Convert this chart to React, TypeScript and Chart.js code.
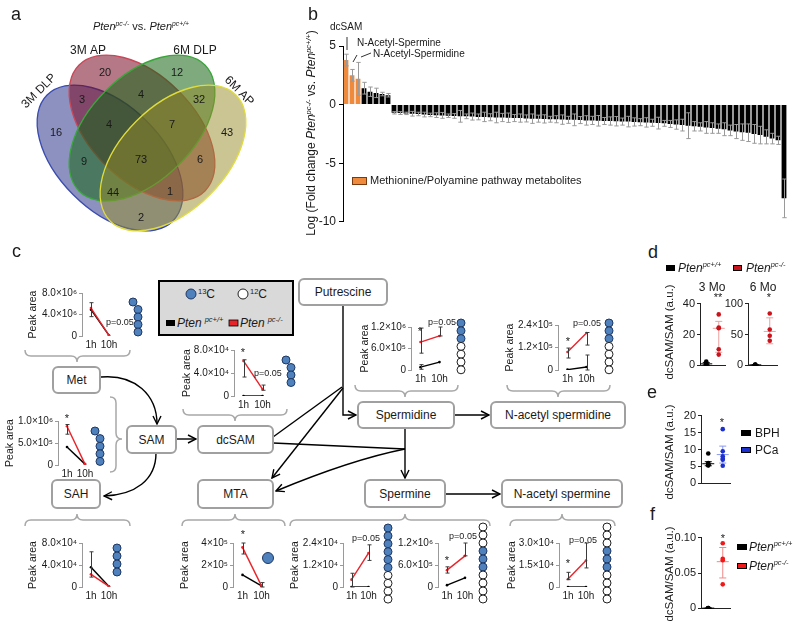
import React, { useEffect, useRef } from 'react';
import { Chart, registerables } from 'chart.js';

Chart.register(...registerables);

const FONT = 'Arial, "Liberation Sans", Helvetica, sans-serif';
Chart.defaults.font.family = FONT;
Chart.defaults.color = '#1a1a1a';

// ---------------- Panel a : Venn ----------------
const vennSetNames = ['3M DLP', '3M AP', '6M DLP', '6M AP'];
const vennRegionCounts = [20, 12, 3, 4, 32, 16, 4, 7, 43, 9, 73, 6, 44, 1, 2];

// ---------------- Panel b : fold changes ----------------
const pathwayValues = [3.8, 2.5, 2.2];
const pathwayErrors = [0.5, 0.5, 1.4];
const otherValues = [
  1.4, 1.1, 1.0, 0.9, 0.8,
  -0.70, -0.72, -0.75, -0.78, -0.80, -0.85, -0.88, -0.90, -0.92, -0.95,
  -0.97, -1.00, -1.00, -1.02, -1.05, -1.05, -1.08, -1.10, -1.10, -1.12,
  -1.15, -1.15, -1.18, -1.20, -1.20, -1.22, -1.25, -1.25, -1.28, -1.30,
  -1.30, -1.32, -1.35, -1.35, -1.38, -1.40, -1.40, -1.42, -1.45, -1.45,
  -1.48, -1.50, -1.52, -1.55, -1.58, -1.60, -1.65, -1.70, -1.75, -1.80,
  -1.85, -1.90, -1.95, -2.00, -2.05, -2.10, -2.20, -2.30, -2.35, -2.40,
  -2.50, -2.60, -2.75, -2.90, -3.05,
  -8.0,
];
const otherErrors = [
  0.5, 0.4, 0.4, 0.15, 0.15,
  0.10, 0.12, 0.10, 0.20, 0.15, 0.20, 0.15, 0.20, 0.25, 0.15,
  0.20, 0.50, 0.20, 0.30, 0.25, 0.40, 0.30, 0.45, 0.35, 0.40,
  0.30, 0.35, 0.30, 0.40, 0.30, 0.35, 0.25, 0.30, 0.40, 0.30,
  0.50, 0.30, 0.40, 0.35, 0.45, 0.30, 0.35, 0.40, 0.30, 0.45,
  0.35, 0.30, 0.40, 0.30, 0.50, 0.25, 0.30, 0.40, 0.50, 1.10,
  0.40, 0.35, 0.50, 0.45, 0.40, 0.55, 0.45, 0.60, 0.70, 0.75,
  0.80, 0.75, 0.60, 0.45, 0.35,
  1.65,
];
const foldTicks = [-10, -5, 0, 5];

// ---------------- Panel c : 13C tracing ----------------
const TIME = ['1h', '10h'];

const metWT = [4.9e6, 0.1e6];
const metKO = [5.2e6, 0.1e6];
const metWTRange = [[3.6e6, 6.2e6], null];
const metKORange = [null, null];
const metTicks = [0, 4e6, 8e6];
const metTickLabels = ['0', '4.0×10⁶', '8.0×10⁶'];

const samWT = [0.41e6, 0.02e6];
const samKO = [0.88e6, 0.02e6];
const samWTRange = [null, null];
const samKORange = [[0.70e6, 0.92e6], null];
const samTicks = [0, 0.5e6, 1.0e6];
const samTickLabels = ['0', '5.0×10⁵', '1.0×10⁶'];

const sahWT = [3.6e4, 0.1e4];
const sahKO = [2.3e4, 0.1e4];
const sahWTRange = [[1.8e4, 6.4e4], null];
const sahKORange = [null, null];
const sahTicks = [0, 4e4, 8e4];
const sahTickLabels = ['0', '4.0×10⁴', '8.0×10⁴'];

const dcsamWT = [0, 0];
const dcsamKO = [6.1e4, 1.2e4];
const dcsamWTRange = [null, null];
const dcsamKORange = [[3.3e4, 6.3e4], [1.0e4, 1.9e4]];
const dcsamTicks = [0, 4e4, 8e4];
const dcsamTickLabels = ['0', '4.0×10⁴', '8.0×10⁴'];

const mtaWT = [1.1e5, 0.1e5];
const mtaKO = [3.6e5, 0.1e5];
const mtaWTRange = [null, [0, 0.4e5]];
const mtaKORange = [[3.0e5, 4.0e5], null];
const mtaTicks = [0, 2e5, 4e5];
const mtaTickLabels = ['0', '2×10⁵', '4×10⁵'];

const spm6WT = [0, 0];
const spm6KO = [0.4e4, 1.85e4];
const spm6WTRange = [null, null];
const spm6KORange = [[0, 0.75e4], [1.45e4, 2.3e4]];
const spm6Ticks = [0, 1.2e4, 2.4e4];
const spm6TickLabels = ['0', '1.2×10⁴', '2.4×10⁴'];

const spm3WT = [0.05e6, 0.25e6];
const spm3KO = [0.46e6, 0.85e6];
const spm3WTRange = [null, null];
const spm3KORange = [[0.38e6, 0.55e6], [0.85e6, 1.2e6]];
const spm3Ticks = [0, 0.6e6, 1.2e6];
const spm3TickLabels = ['0', '6.0×10⁵', '1.2×10⁶'];

const nacspmWT = [0, 0];
const nacspmKO = [0.55e4, 1.8e4];
const nacspmWTRange = [null, null];
const nacspmKORange = [[0.5e4, 1.0e4], [1.3e4, 3.0e4]];
const nacspmTicks = [0, 1.5e4, 3.0e4];
const nacspmTickLabels = ['0', '1.5×10⁴', '3.0×10⁴'];

const spdWT = [0.08e6, 0.22e6];
const spdKO = [0.78e6, 0.95e6];
const spdWTRange = [[0.02e6, 0.15e6], null];
const spdKORange = [[0.47e6, 1.17e6], [0.95e6, 1.2e6]];
const spdTicks = [0, 0.6e6, 1.2e6];
const spdTickLabels = ['0', '6.0×10⁵', '1.2×10⁶'];

const nacspdWT = [0.02e5, 0.16e5];
const nacspdKO = [0.96e5, 1.97e5];
const nacspdWTRange = [null, [0, 0.8e5]];
const nacspdKORange = [[0.64e5, 1.17e5], [1.33e5, 2.0e5]];
const nacspdTicks = [0, 1.2e5, 2.4e5];
const nacspdTickLabels = ['0', '1.2×10⁵', '2.4×10⁵'];

// ---------------- Panels d, e, f ----------------
const dGroups = ['WT', 'KO'];
const dMo3WT = [2.5, 1.0, 0.6, 0.8, 0.4];
const dMo3KO = [33, 24.5, 24, 10.5, 7];
const dMo3WTStats = [1.0, 0.3, 1.8];
const dMo3KOStats = [24, 8.5, 28.5];
const dMo3Ticks = [0, 20, 40];
const dMo6WT = [1.2, 0.8, 0.6, 1.0];
const dMo6KO = [84, 58, 48, 40];
const dMo6WTStats = [0.9, 0.6, 1.2];
const dMo6KOStats = [55, 35, 77];
const dMo6Ticks = [0, 50, 100];

const eGroups = ['BPH', 'PCa'];
const eBPH = [8.8, 6.0, 5.6, 5.4, 5.3, 5.5];
const ePCa = [16, 9.5, 7.0, 7.3, 8.0, 5.2];
const eBPHStats = [5.8, 5.2, 6.4];
const ePCaStats = [8.5, 6.0, 11.0];
const eTicks = [0, 5, 10, 15, 20];

const fGroups = ['WT', 'KO'];
const fWT = [0.0005, 0.0003, 0.0004, 0.0002];
const fKO = [0.092, 0.070, 0.068, 0.034];
const fWTStats = [0.0004, 0.0002, 0.0006];
const fKOStats = [0.066, 0.043, 0.086];
const fTicks = [0, 0.05, 0.10];
const fTickLabels = ['0', '0.05', '0.10'];

// ---------------- styles / layout ----------------
const ORANGE = '#ef8a3c';
const KO_RED = '#e8232a';
const BLUE_C = '#4f81bd';

const rangePlugin = {
  id: 'rangeBars',
  afterDatasetsDraw(chart: any) {
    const { ctx } = chart;
    const ys = chart.scales.y;
    chart.data.datasets.forEach((ds: any, di: number) => {
      const ranges = ds.ranges;
      if (!ranges) return;
      const meta = chart.getDatasetMeta(di);
      ctx.save();
      ctx.strokeStyle = ds.rangeColor || '#3a3a3a';
      ctx.lineWidth = ds.rangeWidth || 1;
      const cap = ds.rangeCap || 2;
      ranges.forEach((r: any, i: number) => {
        if (!r) return;
        const el = meta.data[i];
        if (!el) return;
        const x = Math.round(el.x) + 0.5;
        const y1 = ys.getPixelForValue(r[0]);
        const y2 = ys.getPixelForValue(r[1]);
        ctx.beginPath();
        ctx.moveTo(x, y1); ctx.lineTo(x, y2);
        ctx.moveTo(x - cap, y1); ctx.lineTo(x + cap, y1);
        ctx.moveTo(x - cap, y2); ctx.lineTo(x + cap, y2);
        ctx.stroke();
      });
      ctx.restore();
    });
  },
};

const statsPlugin = {
  id: 'groupStats',
  beforeDatasetsDraw(chart: any) {
    const { ctx } = chart;
    const xs = chart.scales.x;
    const ys = chart.scales.y;
    chart.data.datasets.forEach((ds: any) => {
      if (!ds.stats) return;
      const x = xs.getPixelForValue(ds.cat);
      const [m, lo, hi] = ds.stats;
      ctx.save();
      ctx.strokeStyle = ds.statColor;
      ctx.lineWidth = 1;
      const ym = ys.getPixelForValue(m);
      const yl = ys.getPixelForValue(lo);
      const yh = ys.getPixelForValue(hi);
      ctx.beginPath();
      ctx.moveTo(x - 6, ym); ctx.lineTo(x + 6, ym);
      ctx.moveTo(x, yl); ctx.lineTo(x, yh);
      ctx.moveTo(x - 3.5, yl); ctx.lineTo(x + 3.5, yl);
      ctx.moveTo(x - 3.5, yh); ctx.lineTo(x + 3.5, yh);
      ctx.stroke();
      ctx.restore();
    });
  },
};

const vennPlugin = {
  id: 'vennShapes',
  beforeDatasetsDraw(chart: any, _a: any, opts: any) {
    const { ctx } = chart;
    const sx = chart.scales.x, sy = chart.scales.y;
    const k = sx.getPixelForValue(1) - sx.getPixelForValue(0);
    opts.ellipses.forEach((e: any) => {
      ctx.save();
      ctx.beginPath();
      ctx.ellipse(sx.getPixelForValue(e.cx), sy.getPixelForValue(e.cy), e.rx * k, e.ry * k, (e.angle * Math.PI) / 180, 0, Math.PI * 2);
      ctx.fillStyle = e.fill;
      ctx.fill();
      ctx.lineWidth = 1.3;
      ctx.strokeStyle = e.stroke;
      ctx.stroke();
      ctx.restore();
    });
  },
  afterDatasetsDraw(chart: any, _a: any, opts: any) {
    const { ctx } = chart;
    const sx = chart.scales.x, sy = chart.scales.y;
    const ds = chart.data.datasets[0];
    const meta = chart.getDatasetMeta(0);
    ctx.save();
    ctx.fillStyle = '#1a1a1a';
    ctx.textAlign = 'center';
    ctx.textBaseline = 'middle';
    ctx.font = `11px ${FONT}`;
    meta.data.forEach((pt: any, i: number) => {
      ctx.fillText(String(ds.counts[i]), pt.x, pt.y);
    });
    ctx.font = `12px ${FONT}`;
    opts.setLabels.forEach((s: any, i: number) => {
      ctx.save();
      ctx.translate(sx.getPixelForValue(s.x), sy.getPixelForValue(s.y));
      ctx.rotate((s.angle * Math.PI) / 180);
      ctx.fillText(ds.setNames[i], 0, 0);
      ctx.restore();
    });
    ctx.restore();
  },
};

const vennEllipses = [
  { cx: 110, cy: 158, rx: 89, ry: 52, angle: 45, fill: 'rgba(45,55,140,0.55)', stroke: '#3a4bb0' },
  { cx: 142, cy: 128, rx: 89, ry: 52, angle: 45, fill: 'rgba(120,10,35,0.55)', stroke: '#c8485a' },
  { cx: 142, cy: 128, rx: 89, ry: 52, angle: -45, fill: 'rgba(20,100,20,0.55)', stroke: '#3aa63a' },
  { cx: 173, cy: 158, rx: 89, ry: 52, angle: -45, fill: 'rgba(150,140,40,0.5)', stroke: '#e0dc3c' },
];
const vennCountPos = [
  [105, 73], [177, 73], [82, 100], [141, 95], [199, 100], [56, 133], [109, 125], [172, 125],
  [227, 133], [84, 162], [141, 160], [200, 160], [113, 193], [170, 192], [141, 218],
];
const vennSetLabelPos = [
  { x: 39, y: 91, angle: -45 }, { x: 88, y: 51, angle: 0 }, { x: 195, y: 51, angle: 0 }, { x: 239, y: 91, angle: 45 },
];

const baseOpts = {
  animation: false,
  responsive: false,
  maintainAspectRatio: false,
  events: [],
};

function ChartBox({ left, top, width, height, make }: any) {
  const ref = useRef<HTMLCanvasElement>(null);
  useEffect(() => {
    const c = new Chart(ref.current as HTMLCanvasElement, make());
    return () => c.destroy();
  }, []);
  return <canvas ref={ref} width={width} height={height} style={{ position: 'absolute', left, top, width, height }} />;
}

function makeVenn() {
  return {
    type: 'scatter',
    data: {
      datasets: [{
        data: vennCountPos.map(([x, y]) => ({ x, y })),
        counts: vennRegionCounts,
        setNames: vennSetNames,
        pointRadius: 0,
      }],
    },
    options: {
      ...baseOpts,
      layout: { padding: 0 },
      plugins: { legend: { display: false }, tooltip: { enabled: false }, vennShapes: { ellipses: vennEllipses, setLabels: vennSetLabelPos } },
      scales: {
        x: { type: 'linear', display: false, min: 0, max: 300 },
        y: { type: 'linear', display: false, min: 0, max: 245, reverse: true },
      },
    },
    plugins: [vennPlugin],
  };
}

function makeBars() {
  const values = [...pathwayValues, ...otherValues];
  const errs = [...pathwayErrors, ...otherErrors];
  return {
    type: 'bar',
    data: {
      labels: values.map((_, i) => `m${i + 1}`),
      datasets: [{
        data: values,
        backgroundColor: values.map((_, i) => (i < pathwayValues.length ? ORANGE : '#000')),
        borderWidth: 0,
        barPercentage: 0.8,
        categoryPercentage: 1,
        ranges: values.map((v, i) => [v - errs[i], v + errs[i]]),
        rangeColor: '#9a9a9a',
        rangeCap: 2.2,
      }],
    },
    options: {
      ...baseOpts,
      layout: { padding: { top: 16, right: 4, bottom: 4, left: 0 } },
      plugins: { legend: { display: false }, tooltip: { enabled: false } },
      scales: {
        x: { display: false },
        y: {
          min: -10, max: 5,
          afterBuildTicks: (s: any) => { s.ticks = foldTicks.map((v) => ({ value: v })); },
          ticks: { font: { size: 12 }, padding: 3, color: '#1a1a1a' },
          grid: { display: true, drawOnChartArea: false, tickLength: 4, color: '#000' },
          border: { display: true, color: '#000' },
          afterFit: (s: any) => { s.width = 43; },
        },
      },
    },
    plugins: [rangePlugin],
  };
}

const peakCharts = [
  { id: 'met', box: { left: 82, top: 293, w: 36, h: 43, titleX: 33 }, ticks: metTicks, labels: metTickLabels, wt: metWT, ko: metKO, wtR: metWTRange, koR: metKORange },
  { id: 'sam', box: { left: 58, top: 421, w: 36, h: 44, titleX: 10 }, ticks: samTicks, labels: samTickLabels, wt: samWT, ko: samKO, wtR: samWTRange, koR: samKORange },
  { id: 'sah', box: { left: 82, top: 543, w: 36, h: 44, titleX: 33 }, ticks: sahTicks, labels: sahTickLabels, wt: sahWT, ko: sahKO, wtR: sahWTRange, koR: sahKORange },
  { id: 'dcsam', box: { left: 234, top: 350, w: 38, h: 46, titleX: 187 }, ticks: dcsamTicks, labels: dcsamTickLabels, wt: dcsamWT, ko: dcsamKO, wtR: dcsamWTRange, koR: dcsamKORange },
  { id: 'mta', box: { left: 233, top: 543, w: 38, h: 44, titleX: 185 }, ticks: mtaTicks, labels: mtaTickLabels, wt: mtaWT, ko: mtaKO, wtR: mtaWTRange, koR: mtaKORange },
  { id: 'spm6', box: { left: 343, top: 543, w: 34, h: 44, titleX: 295 }, ticks: spm6Ticks, labels: spm6TickLabels, wt: spm6WT, ko: spm6KO, wtR: spm6WTRange, koR: spm6KORange },
  { id: 'spm3', box: { left: 438, top: 543, w: 36, h: 44 }, ticks: spm3Ticks, labels: spm3TickLabels, wt: spm3WT, ko: spm3KO, wtR: spm3WTRange, koR: spm3KORange },
  { id: 'nacspm', box: { left: 559, top: 543, w: 36, h: 44, titleX: 512 }, ticks: nacspmTicks, labels: nacspmTickLabels, wt: nacspmWT, ko: nacspmKO, wtR: nacspmWTRange, koR: nacspmKORange },
  { id: 'spd', box: { left: 411, top: 327, w: 38, h: 43, titleX: 365 }, ticks: spdTicks, labels: spdTickLabels, wt: spdWT, ko: spdKO, wtR: spdWTRange, koR: spdKORange },
  { id: 'nacspd', box: { left: 558, top: 325, w: 38, h: 45, titleX: 510 }, ticks: nacspdTicks, labels: nacspdTickLabels, wt: nacspdWT, ko: nacspdKO, wtR: nacspdWTRange, koR: nacspdKORange },
];

function peakGeom(pc: any) {
  const b = pc.box;
  const ML = b.titleX !== undefined ? Math.round(b.left - b.titleX + 6.3) : 45;
  const MT = 8, MR = 6, MB = 16;
  return { ML, MT, MR, MB, left: b.left - ML, top: b.top - MT, width: ML + b.w + MR, height: MT + b.h + MB };
}

function makePeak(pc: any) {
  const g = peakGeom(pc);
  return {
    type: 'line',
    data: {
      labels: TIME,
      datasets: [
        { data: pc.ko, borderColor: KO_RED, backgroundColor: KO_RED, borderWidth: 1.4, pointRadius: 1.3, pointBorderWidth: 0, tension: 0, ranges: pc.koR },
        { data: pc.wt, borderColor: '#000', backgroundColor: '#000', borderWidth: 1.4, pointRadius: 1.3, pointBorderWidth: 0, tension: 0, ranges: pc.wtR },
      ],
    },
    options: {
      ...baseOpts,
      layout: { padding: { top: g.MT, right: g.MR, bottom: 0, left: 0 } },
      plugins: { legend: { display: false }, tooltip: { enabled: false } },
      scales: {
        x: {
          type: 'category', offset: true,
          grid: { display: false, drawTicks: false }, border: { display: false },
          ticks: { font: { size: 10 }, padding: 3, maxRotation: 0, autoSkip: false, color: '#1a1a1a' },
          afterFit: (s: any) => { s.height = g.MB; },
        },
        y: {
          type: 'linear', min: 0, max: pc.ticks[pc.ticks.length - 1],
          afterBuildTicks: (s: any) => { s.ticks = pc.ticks.map((v: number) => ({ value: v })); },
          ticks: { font: { size: 10 }, padding: 2, color: '#1a1a1a', autoSkip: false, callback: (_v: any, i: number) => pc.labels[i] },
          grid: { display: true, drawOnChartArea: false, drawTicks: true, tickLength: 3, color: '#9a9a9a' },
          border: { display: true, color: '#9a9a9a', width: 1 },
          title: { display: pc.box.titleX !== undefined, text: 'Peak area', font: { size: 10.5 }, padding: 0, color: '#1a1a1a' },
          afterFit: (s: any) => { s.width = g.ML; },
        },
      },
    },
    plugins: [rangePlugin],
  };
}

const dotCharts = [
  { id: 'd3', box: { left: 700, top: 303, w: 25, h: 67, ml: 28 }, cats: dGroups, ticks: dMo3Ticks, labels: dMo3Ticks.map(String),
    groups: [{ values: dMo3WT, stats: dMo3WTStats, color: '#000', statColor: '#000' }, { values: dMo3KO, stats: dMo3KOStats, color: '#c8141c', statColor: '#eea0a0' }] },
  { id: 'd6', box: { left: 748, top: 303, w: 29, h: 67, ml: 30 }, cats: dGroups, ticks: dMo6Ticks, labels: dMo6Ticks.map(String),
    groups: [{ values: dMo6WT, stats: dMo6WTStats, color: '#000', statColor: '#000' }, { values: dMo6KO, stats: dMo6KOStats, color: '#c8141c', statColor: '#eea0a0' }] },
  { id: 'e', box: { left: 701, top: 415, w: 29, h: 73, ml: 28 }, cats: eGroups, ticks: eTicks, labels: eTicks.map(String),
    groups: [{ values: eBPH, stats: eBPHStats, color: '#000', statColor: '#000' }, { values: ePCa, stats: ePCaStats, color: '#1c30d0', statColor: '#8898f0' }] },
  { id: 'f', box: { left: 701, top: 537, w: 29, h: 76, ml: 36 }, cats: fGroups, ticks: fTicks, labels: fTickLabels,
    groups: [{ values: fWT, stats: fWTStats, color: '#000', statColor: '#000' }, { values: fKO, stats: fKOStats, color: '#f01818', statColor: '#f08888' }] },
];

function dotGeom(dc: any) {
  const b = dc.box;
  const MT = 8, MR = 4, MB = 4;
  return { ML: b.ml, MT, MR, MB, left: b.left - b.ml, top: b.top - MT, width: b.ml + b.w + MR, height: MT + b.h + MB };
}

function makeDots(dc: any) {
  const g = dotGeom(dc);
  return {
    type: 'scatter',
    data: {
      datasets: dc.groups.map((gr: any, gi: number) => ({
        data: gr.values.map((v: number) => ({ x: dc.cats[gi], y: v })),
        cat: gi, stats: gr.stats, statColor: gr.statColor,
        pointRadius: 2.3, pointBackgroundColor: gr.color, pointBorderColor: gr.color, pointBorderWidth: 0, showLine: false,
      })),
    },
    options: {
      ...baseOpts,
      layout: { padding: { top: g.MT, right: g.MR, bottom: 0, left: 0 } },
      plugins: { legend: { display: false }, tooltip: { enabled: false } },
      scales: {
        x: {
          type: 'category', labels: dc.cats, offset: true,
          grid: { display: false, drawTicks: false }, ticks: { display: false },
          border: { display: true, color: '#222' },
          afterFit: (s: any) => { s.height = g.MB; },
        },
        y: {
          type: 'linear', min: 0, max: dc.ticks[dc.ticks.length - 1],
          afterBuildTicks: (s: any) => { s.ticks = dc.ticks.map((v: number) => ({ value: v })); },
          ticks: { font: { size: 11 }, padding: 2, color: '#1a1a1a', autoSkip: false, callback: (_v: any, i: number) => dc.labels[i] },
          grid: { display: true, drawOnChartArea: false, drawTicks: true, tickLength: 3, color: '#222' },
          border: { display: true, color: '#222', width: 1 },
          afterFit: (s: any) => { s.width = g.ML; },
        },
      },
    },
    plugins: [statsPlugin],
  };
}

// ---------------- diagram helpers ----------------
const carbonChains = [
  { x: 138, y: 302, step: 7.5, pattern: 'BBBBB', kink: true },
  { x: 100, y: 431, step: 7.6, pattern: 'BBBBB', kink: true },
  { x: 117, y: 548, step: 8, pattern: 'BBBB', kink: false },
  { x: 291, y: 360, step: 7.5, pattern: 'BBBB', kink: true },
  { x: 388, y: 528, step: 7.9, pattern: 'BBBBBBWWWW', kink: false },
  { x: 483, y: 527, step: 8, pattern: 'WWWBBBWWWW', kink: false },
  { x: 607, y: 527, step: 8, pattern: 'WWWBBBWWWW', kink: false },
  { x: 461, y: 323, step: 7.8, pattern: 'BBBWWWW', kink: false },
  { x: 609, y: 323, step: 7.8, pattern: 'BBBWWWW', kink: false },
];

const boxes = [
  { label: 'Putrescine', x: 299, y: 279, w: 88, h: 26 },
  { label: 'Met', x: 53, y: 367, w: 47, h: 26 },
  { label: 'SAM', x: 127, y: 426, w: 49, h: 27 },
  { label: 'dcSAM', x: 198, y: 426, w: 75, h: 27 },
  { label: 'SAH', x: 52, y: 480, w: 48, h: 28 },
  { label: 'MTA', x: 198, y: 480, w: 75, h: 28 },
  { label: 'Spermidine', x: 358, y: 402, w: 96, h: 26 },
  { label: 'N-acetyl spermidine', x: 491, y: 402, w: 134, h: 26 },
  { label: 'Spermine', x: 365, y: 480, w: 80, h: 27 },
  { label: 'N-acetyl spermine', x: 502, y: 480, w: 120, h: 27 },
];

function hBrace(x1: number, x2: number, tip: number, yE: number, dir: number) {
  const r = 6;
  const yM = yE + dir * 6;
  const yT = yM + dir * 6;
  return `M${x1},${yE} Q${x1},${yM} ${x1 + r},${yM} L${tip - r},${yM} Q${tip},${yM} ${tip},${yT} Q${tip},${yM} ${tip + r},${yM} L${x2 - r},${yM} Q${x2},${yM} ${x2},${yE}`;
}
function vBrace(y1: number, y2: number, tip: number, xE: number) {
  const r = 6;
  const xM = xE + 6;
  const xT = xM + 6;
  return `M${xE},${y1} Q${xM},${y1} ${xM},${y1 + r} L${xM},${tip - r} Q${xM},${tip} ${xT},${tip} Q${xM},${tip} ${xM},${tip + r} L${xM},${y2 - r} Q${xM},${y2} ${xE},${y2}`;
}

const braces = [
  hBrace(25, 130, 77, 350, 1),
  hBrace(183, 287, 235, 409, 1),
  hBrace(355, 458, 405, 385, 1),
  hBrace(507, 610, 558, 385, 1),
  hBrace(25, 130, 77, 526, -1),
  hBrace(182, 285, 235, 526, -1),
  hBrace(290, 490, 405, 526, -1),
  hBrace(510, 615, 562, 526, -1),
  vBrace(397, 472, 439, 110),
];

const arrows = [
  { d: 'M101,377 C135,374 157,395 157,424', head: true },
  { d: 'M156,453 C156,480 135,495 104,496', head: true },
  { d: 'M176,439 L196,439', head: true },
  { d: 'M343,305 L343,415 L356,415', head: true },
  { d: 'M273,437 L342,387', head: false },
  { d: 'M343,388 L272,478', head: true },
  { d: 'M273,443 L405,449', head: false },
  { d: 'M405,449 C360,458 312,476 276,491', head: true },
  { d: 'M405,428 L405,478', head: true },
  { d: 'M454,415 L489,415', head: true },
  { d: 'M445,494 L500,494', head: true },
];

function Sup({ children }: any) {
  return <span style={{ fontSize: '0.62em', position: 'relative', top: '-0.6em' }}>{children}</span>;
}

function Txt({ x, y, size = 12, anchor = 'start', italic = false, children, color = '#1a1a1a' }: any) {
  const tx = anchor === 'middle' ? '-50%' : anchor === 'end' ? '-100%' : '0';
  return (
    <div style={{ position: 'absolute', left: x, top: y - size * 0.6, fontSize: size, lineHeight: `${size * 1.2}px`, whiteSpace: 'nowrap', fontStyle: italic ? 'italic' : 'normal', color, transform: `translateX(${tx})` }}>
      {children}
    </div>
  );
}

function RotTxt({ x, y, size = 12, angle = -90, children }: any) {
  return (
    <div style={{ position: 'absolute', left: x, top: y, fontSize: size, lineHeight: `${size * 1.2}px`, whiteSpace: 'nowrap', color: '#1a1a1a', transform: `translate(-50%,-50%) rotate(${angle}deg)` }}>
      {children}
    </div>
  );
}

function Pten({ sup }: any) {
  return <span style={{ fontStyle: 'italic' }}>Pten<Sup>{sup}</Sup></span>;
}

function Diagram() {
  return (
    <svg width={800} height={626} style={{ position: 'absolute', left: 0, top: 0 }}>
      <defs>
        <marker id="arr" markerWidth="10" markerHeight="10" refX="9" refY="5" orient="auto" markerUnits="userSpaceOnUse">
          <path d="M1,1 L9,5 L1,9" fill="none" stroke="#000" strokeWidth="1.4" />
        </marker>
      </defs>
      {/* bar chart annotation lines */}
      <line x1={347} y1={37} x2={347} y2={50} stroke="#333" strokeWidth={1} />
      <line x1={353} y1={62} x2={357} y2={55} stroke="#333" strokeWidth={1} />
      <line x1={361} y1={57} x2={371} y2={53} stroke="#333" strokeWidth={1} />
      {/* braces */}
      {braces.map((d, i) => <path key={i} d={d} fill="none" stroke="#a8a8a8" strokeWidth={1.5} />)}
      {/* arrows */}
      {arrows.map((a, i) => <path key={i} d={a.d} fill="none" stroke="#000" strokeWidth={1.4} markerEnd={a.head ? 'url(#arr)' : undefined} />)}
      {/* boxes */}
      {boxes.map((b) => (
        <g key={b.label}>
          <rect x={b.x} y={b.y} width={b.w} height={b.h} rx={5} fill="#fff" stroke="#a0a0a0" strokeWidth={2} />
          <text x={b.x + b.w / 2} y={b.y + b.h / 2 + 4.3} fontSize={12} textAnchor="middle" fill="#1a1a1a" fontFamily={FONT}>{b.label}</text>
        </g>
      ))}
      {/* legend box */}
      <rect x={159} y={281} width={134} height={54} fill="#d9d9d9" stroke="#000" strokeWidth={2} />
      <circle cx={191} cy={294} r={5} fill={BLUE_C} stroke="#1f3864" strokeWidth={1} />
      <text x={198} y={298} fontSize={12} fontFamily={FONT} fill="#1a1a1a"><tspan fontSize={7.5} dy={-4}>13</tspan><tspan dy={4}>C</tspan></text>
      <circle cx={243} cy={294} r={5} fill="#fff" stroke="#222" strokeWidth={1} />
      <text x={250} y={298} fontSize={12} fontFamily={FONT} fill="#1a1a1a"><tspan fontSize={7.5} dy={-4}>12</tspan><tspan dy={4}>C</tspan></text>
      <rect x={166} y={320} width={9} height={6} fill="#000" />
      <text x={177} y={327} fontSize={12} fontFamily={FONT} fontStyle="italic" fill="#1a1a1a">Pten<tspan fontSize={7.5} dx={3} dy={-5}>pc+/+</tspan></text>
      <rect x={229} y={320} width={9} height={6} fill={KO_RED} stroke="#000" strokeWidth={0.8} />
      <text x={240} y={327} fontSize={12} fontFamily={FONT} fontStyle="italic" fill="#1a1a1a">Pten<tspan fontSize={7.5} dx={3} dy={-5}>pc-/-</tspan></text>
      {/* carbon chains */}
      {carbonChains.map((c, ci) => c.pattern.split('').map((p, i) => {
        const cx = c.kink && i === 0 ? c.x - 5 : c.x;
        const cy = c.y + i * c.step;
        return <circle key={`${ci}-${i}`} cx={cx} cy={cy} r={4} fill={p === 'B' ? BLUE_C : '#fff'} stroke={p === 'B' ? '#1f3864' : '#222'} strokeWidth={1} />;
      }))}
      <circle cx={268} cy={558} r={5.5} fill={BLUE_C} stroke="#1f3864" strokeWidth={1} />
    </svg>
  );
}

export default function App() {
  useEffect(() => { document.body.style.margin = '0'; }, []);
  return (
    <div style={{ position: 'absolute', left: 0, top: 0, width: 800, height: 626, background: '#fff', fontFamily: FONT, color: '#1a1a1a', overflow: 'hidden' }}>
      <Diagram />
      <ChartBox left={0} top={0} width={300} height={245} make={makeVenn} />
      <ChartBox left={300} top={30} width={491} height={202} make={makeBars} />
      {peakCharts.map((pc) => {
        const g = peakGeom(pc);
        return <ChartBox key={pc.id} left={g.left} top={g.top} width={g.width} height={g.height} make={() => makePeak(pc)} />;
      })}
      {dotCharts.map((dc) => {
        const g = dotGeom(dc);
        return <ChartBox key={dc.id} left={g.left} top={g.top} width={g.width} height={g.height} make={() => makeDots(dc)} />;
      })}

      {/* panel letters */}
      <Txt x={11} y={15} size={18}>a</Txt>
      <Txt x={308} y={15} size={18}>b</Txt>
      <Txt x={12} y={252} size={18}>c</Txt>
      <Txt x={648} y={253} size={18}>d</Txt>
      <Txt x={647} y={393} size={18}>e</Txt>
      <Txt x={650} y={515} size={18}>f</Txt>

      {/* panel a title */}
      <Txt x={141} y={27} size={11} anchor="middle"><Pten sup="pc-/-" /> vs. <Pten sup="pc+/+" /></Txt>

      {/* panel b annotations */}
      <RotTxt x={312} y={133} size={12}>Log (Fold change <Pten sup="pc-/-" /> vs. <Pten sup="pc+/+" />)</RotTxt>
      <Txt x={330} y={27} size={10}>dcSAM</Txt>
      <Txt x={357} y={43} size={10}>N-Acetyl-Spermine</Txt>
      <Txt x={373} y={54} size={10}>N-Acetyl-Spermidine</Txt>
      <div style={{ position: 'absolute', left: 352, top: 177, width: 15, height: 8, background: ORANGE, border: '0.5px solid #7a3a10', boxSizing: 'border-box' }} />
      <Txt x={370} y={181} size={11}>Methionine/Polyamine pathway metabolites</Txt>

      {/* panel c stars / p values */}
      <Txt x={106} y={322} size={9}>p=0.05</Txt>
      <Txt x={67} y={419} size={11} anchor="middle">*</Txt>
      <Txt x={243} y={353} size={11} anchor="middle">*</Txt>
      <Txt x={254} y={373} size={9}>p=0.05</Txt>
      <Txt x={243} y={535} size={11} anchor="middle">*</Txt>
      <Txt x={366} y={538} size={9} anchor="middle">p=0.05</Txt>
      <Txt x={447} y={561} size={11} anchor="middle">*</Txt>
      <Txt x={463} y={536} size={9} anchor="middle">p=0.05</Txt>
      <Txt x={568} y={564} size={11} anchor="middle">*</Txt>
      <Txt x={583} y={540} size={9} anchor="middle">p=0.05</Txt>
      <Txt x={420} y={332} size={11} anchor="middle">*</Txt>
      <Txt x={442} y={322} size={9} anchor="middle">p=0.05</Txt>
      <Txt x={568} y={342} size={11} anchor="middle">*</Txt>
      <Txt x={587} y={323} size={9} anchor="middle">p=0.05</Txt>

      {/* panel d */}
      <div style={{ position: 'absolute', left: 666, top: 265, width: 9, height: 6, background: '#000' }} />
      <Txt x={678} y={268} size={12}><Pten sup="pc+/+" /></Txt>
      <div style={{ position: 'absolute', left: 733, top: 265, width: 9, height: 6, background: '#c8141c', border: '0.5px solid #000', boxSizing: 'border-box' }} />
      <Txt x={746} y={268} size={12}><Pten sup="pc-/-" /></Txt>
      <Txt x={712} y={287} size={12} anchor="middle">3 Mo</Txt>
      <Txt x={763} y={287} size={12} anchor="middle">6 Mo</Txt>
      <Txt x={718} y={298} size={11} anchor="middle">**</Txt>
      <Txt x={769} y={298} size={11} anchor="middle">*</Txt>
      <RotTxt x={670} y={332} size={11.5}>dcSAM/SAM (a.u.)</RotTxt>

      {/* panel e */}
      <RotTxt x={670} y={452} size={11.5}>dcSAM/SAM (a.u.)</RotTxt>
      <Txt x={722} y={423} size={11} anchor="middle">*</Txt>
      <div style={{ position: 'absolute', left: 741, top: 430, width: 10, height: 6, background: '#000' }} />
      <Txt x={755} y={433} size={12}>BPH</Txt>
      <div style={{ position: 'absolute', left: 741, top: 447, width: 10, height: 6, background: '#1c30d0', border: '0.5px solid #000', boxSizing: 'border-box' }} />
      <Txt x={755} y={450} size={12}>PCa</Txt>

      {/* panel f */}
      <RotTxt x={670} y={574} size={11.5}>dcSAM/SAM (a.u.)</RotTxt>
      <Txt x={723} y={539} size={11} anchor="middle">*</Txt>
      <div style={{ position: 'absolute', left: 737, top: 544, width: 10, height: 6, background: '#000' }} />
      <Txt x={749} y={547} size={12}><Pten sup="pc+/+" /></Txt>
      <div style={{ position: 'absolute', left: 737, top: 563, width: 10, height: 6, background: '#f01818', border: '0.5px solid #000', boxSizing: 'border-box' }} />
      <Txt x={749} y={566} size={12}><Pten sup="pc-/-" /></Txt>
    </div>
  );
}
